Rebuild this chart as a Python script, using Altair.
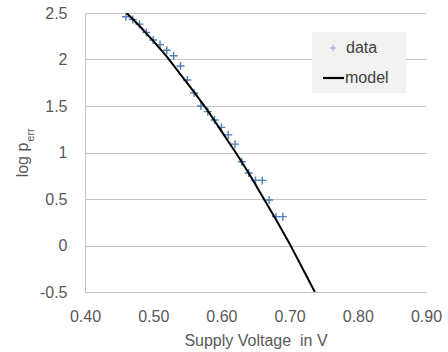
import altair as alt
import pandas as pd

# measured data (supply voltage in V, log p_err)
data_v = [0.46, 0.47, 0.48, 0.49, 0.50, 0.51, 0.52, 0.53, 0.54, 0.55, 0.56, 0.57,
          0.58, 0.59, 0.60, 0.61, 0.62, 0.63, 0.64, 0.65, 0.66, 0.67, 0.68, 0.69]
data_log = [2.46, 2.43, 2.38, 2.29, 2.21, 2.16, 2.10, 2.04, 1.93, 1.78, 1.64, 1.50,
            1.44, 1.35, 1.27, 1.19, 1.09, 0.90, 0.78, 0.70, 0.70, 0.49, 0.31, 0.31]

# model curve
model_v = [0.461, 0.48, 0.50, 0.52, 0.54, 0.56, 0.58, 0.60, 0.62, 0.64, 0.66, 0.68, 0.70, 0.72, 0.737]
model_log = [2.50, 2.36, 2.20, 2.03, 1.84, 1.65, 1.45, 1.23, 1.01, 0.78, 0.53, 0.28, 0.02, -0.26, -0.50]

x_ticks = [0.40, 0.50, 0.60, 0.70, 0.80, 0.90]
y_ticks = [-0.5, 0, 0.5, 1, 1.5, 2, 2.5]

FONT = "Liberation Sans"
TXT = "#595959"
BLUE = "#4f81bd"

df_data = pd.DataFrame({"v": data_v, "log": data_log})
df_model = pd.DataFrame({"v": model_v, "log": model_log})
one = pd.DataFrame({"k": [0]})

xs = alt.Scale(domain=[0.40, 0.90], nice=False, zero=False)
ys = alt.Scale(domain=[-0.5, 2.5], nice=False, zero=False)

xaxis = alt.Axis(values=x_ticks, format=".2f", title="Supply Voltage \u00a0in V",
                 grid=False, ticks=False, domain=False, labelPadding=16, labelFlush=False,
                 titlePadding=8, labelFont=FONT, labelFontSize=16, labelColor=TXT,
                 titleFont=FONT, titleFontSize=16, titleColor=TXT, titleFontWeight="normal")
yaxis = alt.Axis(values=y_ticks, labelExpr="toString(datum.value)", title=None,
                 grid=True, gridColor="#c4c4c4", gridWidth=1, ticks=False, labelFlush=False,
                 domain=True, domainColor="#c4c4c4", domainWidth=1, labelPadding=18,
                 labelFont=FONT, labelFontSize=16, labelColor=TXT)

cross = "M-1,0L1,0M0,-1L0,1"

points = alt.Chart(df_data).mark_point(shape=cross, size=64, filled=False,
                                        color=BLUE, strokeWidth=1.4, opacity=1).encode(
    x=alt.X("v:Q", scale=xs, axis=xaxis),
    y=alt.Y("log:Q", scale=ys, axis=yaxis),
)

line = alt.Chart(df_model).mark_line(color="black", strokeWidth=2, clip=True).encode(
    x=alt.X("v:Q", scale=xs),
    y=alt.Y("log:Q", scale=ys),
)

# legend
leg_box = alt.Chart(one).mark_rect(fill="#f2f2f2").encode(
    x=alt.value(227), x2=alt.value(321), y=alt.value(19), y2=alt.value(80))
leg_pt = alt.Chart(one).mark_point(shape=cross, size=36, filled=False, color="#8fb0dc",
                                    strokeWidth=1.2, opacity=1).encode(
    x=alt.value(248), y=alt.value(35))
leg_line = alt.Chart(one).mark_rule(color="black", strokeWidth=2.2).encode(
    x=alt.value(238), x2=alt.value(259), y=alt.value(65))
leg_t1 = alt.Chart(one).mark_text(text="data", align="left", baseline="middle",
                                   font=FONT, fontSize=16, color="#404040").encode(
    x=alt.value(261), y=alt.value(35))
leg_t2 = alt.Chart(one).mark_text(text="model", align="left", baseline="middle",
                                   font=FONT, fontSize=16, color="#404040").encode(
    x=alt.value(260), y=alt.value(65))

# y title with subscript
yt1 = alt.Chart(one).mark_text(text="log p", angle=270, align="center", baseline="middle",
                                font=FONT, fontSize=16, color=TXT).encode(
    x=alt.value(-62), y=alt.value(147))
yt2 = alt.Chart(one).mark_text(text="err", angle=270, align="center", baseline="middle",
                                font=FONT, fontSize=11, color=TXT).encode(
    x=alt.value(-54), y=alt.value(122))

chart = alt.layer(points, line, leg_box, leg_pt, leg_line, leg_t1, leg_t2, yt1, yt2).properties(
    width=341, height=279,
    autosize=alt.AutoSizeParams(type="none"),
    padding={"left": 85, "top": 13, "right": 22, "bottom": 60},
    background="white",
).configure_view(stroke=None)

chart.save("out.html", embed_options={"renderer": "svg", "actions": False})
